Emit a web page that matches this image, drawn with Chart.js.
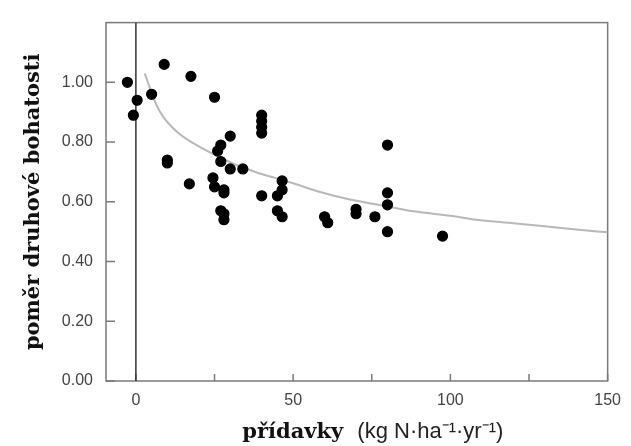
<!DOCTYPE html>
<html>
<head>
<meta charset="utf-8">
<script src="https://cdn.jsdelivr.net/npm/chart.js@4/dist/chart.umd.min.js"></script>
<style>
  body { margin: 0; background: #fff; }
  #wrap { width: 631px; height: 446px; }
</style>
</head>
<body>
<div id="wrap"><canvas id="richness-chart" width="631" height="446"></canvas></div>
<script>
// N additions (kg N/ha/yr) vs. species richness ratio
var plotsX = [-2.7, 0.4, -0.8, 5, 9, 17.5, 25,
              40, 40, 40, 40,
              30, 27, 26, 10, 10, 27, 30, 34,
              17, 24.5, 25, 28, 28, 40, 46.5, 46.5, 45,
              27, 28, 28, 45, 46.5, 60, 61, 70, 70, 76,
              80, 80, 80, 80, 97.5];
var plotsY = [1.00, 0.94, 0.89, 0.96, 1.06, 1.02, 0.95,
              0.89, 0.87, 0.85, 0.83,
              0.82, 0.79, 0.77, 0.74, 0.73, 0.735, 0.71, 0.71,
              0.66, 0.68, 0.65, 0.64, 0.63, 0.62, 0.67, 0.64, 0.62,
              0.57, 0.56, 0.54, 0.57, 0.55, 0.55, 0.53, 0.575, 0.56, 0.55,
              0.79, 0.63, 0.59, 0.50, 0.485];

// fitted trend
var fitX = [2.8, 4.5, 6.5, 9, 11.7, 14, 17, 21, 25.4, 32.7, 38, 44.2, 50, 58.9, 67, 78, 88.3, 100, 109, 120, 130, 140, 150];
var fitY = [1.03, 0.98, 0.925, 0.88, 0.848, 0.826, 0.804, 0.78, 0.756, 0.72, 0.70, 0.68, 0.662, 0.632, 0.61, 0.588, 0.568, 0.553, 0.539, 0.528, 0.518, 0.507, 0.498];

var xTicks = [0, 25, 50, 75, 100, 125, 150];
var xLabelled = [0, 50, 100, 150];
var yTicks = [0, 0.2, 0.4, 0.6, 0.8, 1.0];

var yTitle = 'poměr druhové bohatosti';
var xTitleBold = 'přídavky';
var xTitleUnit = '(kg N·ha⁻¹·yr⁻¹)';

var serifBold = 'bold 21px "DejaVu Serif"';
var unitFont = '22px "Liberation Sans", Arial, sans-serif';

function pairs(xs, ys) {
  return xs.map(function (x, i) { return { x: x, y: ys[i] }; });
}

// frame, inward tick marks and the two axis titles
var frameTicks = {
  id: 'frameTicks',
  beforeDatasetsDraw: function (chart) {
    var ctx = chart.ctx, a = chart.chartArea;
    var xs = chart.scales.x, ys = chart.scales.y;
    ctx.save();
    ctx.strokeStyle = '#7a7a7a';
    ctx.lineWidth = 1.5;
    ctx.strokeRect(a.left, a.top, a.right - a.left, a.bottom - a.top);
    ctx.beginPath();
    xTicks.forEach(function (v) {
      var px = xs.getPixelForValue(v);
      ctx.moveTo(px, a.bottom);
      ctx.lineTo(px, a.bottom - 7);
    });
    yTicks.forEach(function (v) {
      var py = ys.getPixelForValue(v);
      ctx.moveTo(a.left, py);
      ctx.lineTo(a.left + 9, py);
    });
    ctx.stroke();
    ctx.restore();
  },
  afterDraw: function (chart) {
    var ctx = chart.ctx, a = chart.chartArea;
    ctx.save();
    ctx.fillStyle = '#111';
    ctx.translate(34, (a.top + a.bottom) / 2);
    ctx.rotate(-Math.PI / 2);
    ctx.font = serifBold;
    ctx.textAlign = 'center';
    ctx.textBaseline = 'middle';
    ctx.fillText(yTitle, 0, 0);
    ctx.restore();

    ctx.save();
    ctx.textBaseline = 'alphabetic';
    ctx.textAlign = 'left';
    ctx.font = serifBold;
    var w1 = ctx.measureText(xTitleBold).width;
    ctx.font = unitFont;
    var w2 = ctx.measureText(xTitleUnit).width;
    var gap = 14;
    var x0 = (a.left + a.right) / 2 + 16 - (w1 + gap + w2) / 2;
    ctx.fillStyle = '#111';
    ctx.font = serifBold;
    ctx.fillText(xTitleBold, x0, 438);
    ctx.fillStyle = '#222';
    ctx.font = unitFont;
    ctx.fillText(xTitleUnit, x0 + w1 + gap, 438);
    ctx.restore();
  }
};

var chart = new Chart(document.getElementById('richness-chart'), {
  type: 'scatter',
  data: {
    datasets: [{
      label: 'points',
      data: pairs(plotsX, plotsY),
      backgroundColor: '#000',
      borderColor: '#000',
      pointRadius: 5,
      borderWidth: 1.2,
      order: 0
    }, {
      label: 'zero',
      type: 'line',
      data: [{ x: 0, y: 0 }, { x: 0, y: 1.2 }],
      borderColor: '#333',
      borderWidth: 1.5,
      pointRadius: 0,
      order: 1
    }, {
      label: 'fit',
      type: 'line',
      data: pairs(fitX, fitY),
      borderColor: '#b8b8b8',
      borderWidth: 2,
      pointRadius: 0,
      cubicInterpolationMode: 'monotone',
      order: 2
    }]
  },
  options: {
    responsive: false,
    animation: false,
    devicePixelRatio: 1,
    layout: { padding: { top: 2, right: 13, left: 0, bottom: 0 } },
    plugins: {
      legend: { display: false },
      tooltip: { enabled: false }
    },
    scales: {
      x: {
        type: 'linear',
        min: -9.5,
        max: 150,
        afterFit: function (s) { s.height = 65; },
        afterBuildTicks: function (s) { s.ticks = xLabelled.map(function (v) { return { value: v }; }); },
        grid: { display: false, drawTicks: false },
        border: { display: false },
        ticks: {
          autoSkip: false,
          padding: 10,
          color: '#444',
          font: { family: '"Liberation Sans", Arial, sans-serif', size: 16 },
          maxRotation: 0
        }
      },
      y: {
        min: 0,
        max: 1.2,
        afterFit: function (s) { s.width = 106; },
        afterBuildTicks: function (s) { s.ticks = yTicks.map(function (v) { return { value: v }; }); },
        grid: { display: false, drawTicks: false },
        border: { display: false },
        ticks: {
          autoSkip: false,
          padding: 13,
          color: '#444',
          font: { family: '"Liberation Sans", Arial, sans-serif', size: 16 },
          callback: function (v) { return v.toFixed(2); }
        }
      }
    }
  },
  plugins: [frameTicks]
});
</script>
</body>
</html>
